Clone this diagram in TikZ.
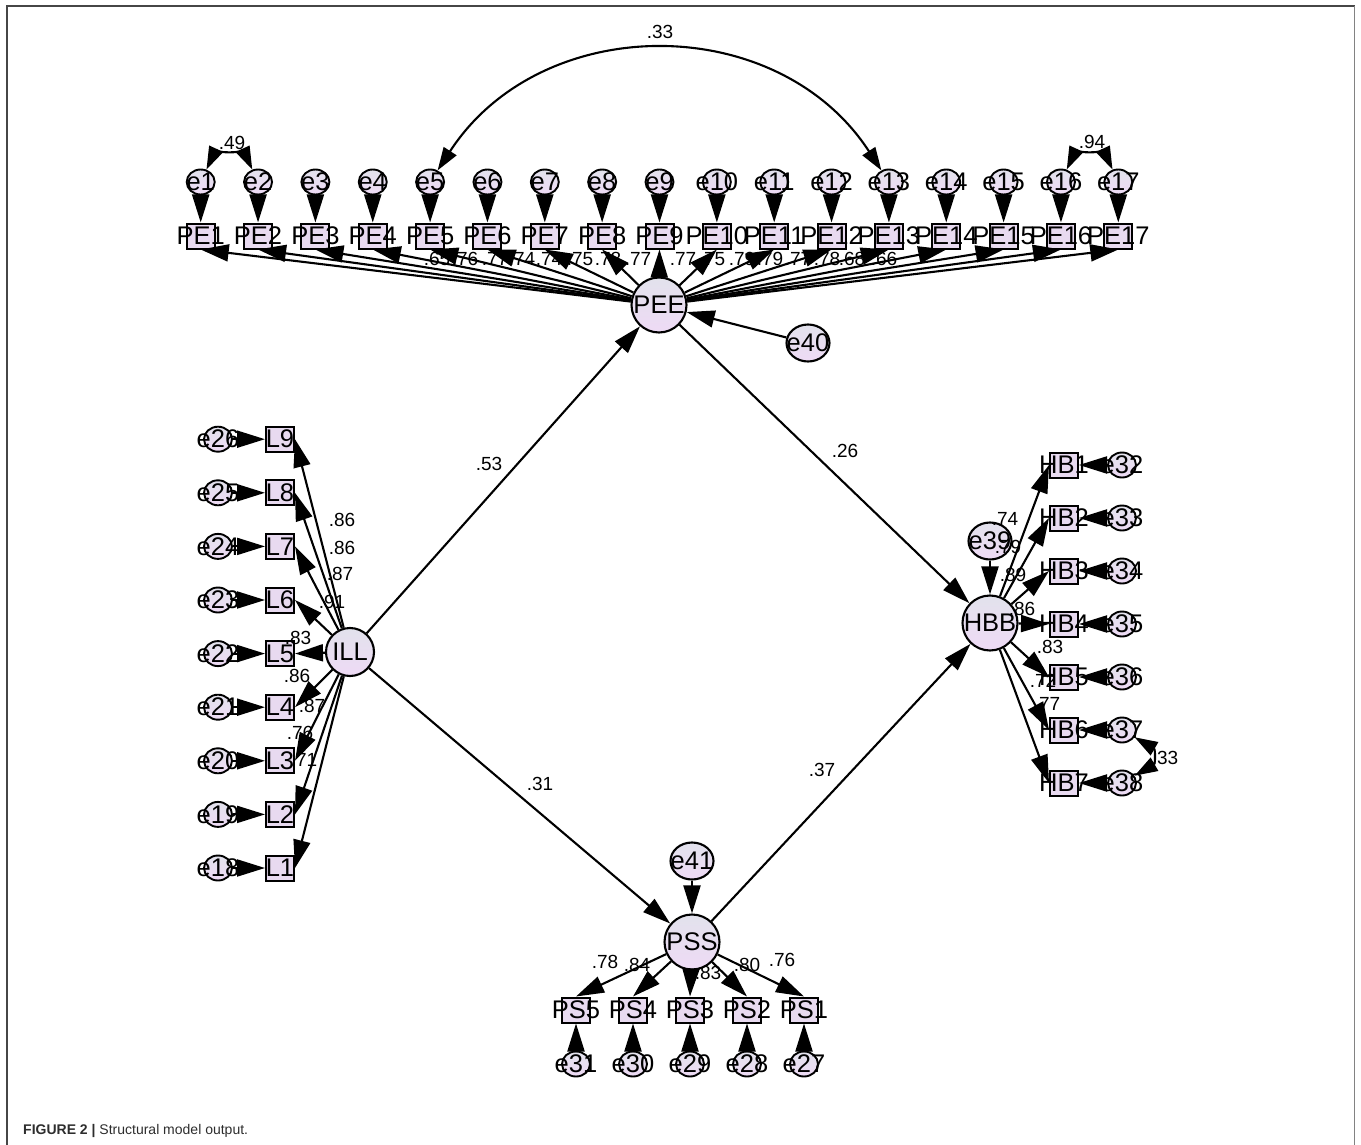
\documentclass[tikz,border=0pt]{standalone}
\usepackage{fontspec}
\setmainfont{Liberation Sans}
\usetikzlibrary{arrows.meta,shapes.geometric}
\definecolor{nodetop}{RGB}{226,226,236}
\definecolor{nodebot}{RGB}{238,218,245}
\definecolor{boxfill}{RGB}{232,218,240}
\definecolor{framedark}{RGB}{70,70,70}
\definecolor{framelight}{RGB}{130,130,130}
\definecolor{captxt}{RGB}{45,45,45}
\begin{document}
\begin{tikzpicture}[x=1pt,y=1pt,
  every node/.style={font=\fontsize{25.5}{25.5}\selectfont, inner sep=0pt},
  latent/.style={circle, draw=black, line width=2.1pt, top color=nodetop, bottom color=nodebot, minimum size=55pt},
  errbig/.style={ellipse, draw=black, line width=2.1pt, top color=nodetop, bottom color=nodebot, minimum width=43pt, minimum height=37pt},
  errsmall/.style={ellipse, draw=black, line width=1.9pt, top color=nodetop, bottom color=nodebot, minimum width=28pt, minimum height=25pt},
  obs/.style={rectangle, draw=black, line width=2pt, fill=boxfill, minimum width=28pt, minimum height=25pt},
  pathline/.style={line width=2.1pt, -{Triangle[length=28pt,width=17pt]}},
  covline/.style={line width=2.1pt, {Triangle[length=23pt,width=15pt]}-{Triangle[length=23pt,width=15pt]}},
  coef/.style={font=\fontsize{19}{19}\selectfont}
]
\useasboundingbox (0,0) rectangle (1361,-1145);
% frame
\draw[framedark, line width=1.2pt] (7,-1145) -- (7,-6) -- (1354.5,-6);
\draw[framelight, line width=1.4pt] (1354.5,-6) -- (1354.5,-1145);

% PE row
\foreach \i in {1,...,17}{
  \pgfmathsetmacro\xx{200.7+57.35*(\i-1)}
  \node[obs, label=center:PE\i] (pe\i) at (\xx,-236) {};
  \node[errsmall, label=center:e\i] (e\i) at (\xx,-182) {};
}
% L column
\foreach \i in {1,...,9}{
  \pgfmathsetmacro\yy{-868+53.6*(\i-1)}
  \pgfmathtruncatemacro\ee{17+\i}
  \node[obs, label=center:L\i] (l\i) at (280,\yy) {};
  \node[errsmall, label=center:e\ee] (e\ee) at (218,\yy) {};
}
% HB column
\foreach \i in {1,...,7}{
  \pgfmathsetmacro\yy{-465-53*(\i-1)}
  \pgfmathtruncatemacro\ee{31+\i}
  \node[obs, label=center:HB\i] (hb\i) at (1064,\yy) {};
  \node[errsmall, label=center:e\ee] (e\ee) at (1122,\yy) {};
}
% PS row
\foreach \i in {1,...,5}{
  \pgfmathsetmacro\xx{804-57*(\i-1)}
  \pgfmathtruncatemacro\ee{26+\i}
  \node[obs, label=center:PS\i] (ps\i) at (\xx,-1010) {};
  \node[errsmall, label=center:e\ee] (e\ee) at (\xx,-1064) {};
}
% latent variables
\node[latent, label=center:PEE] (pee) at (659,-305) {};
\node[latent, minimum size=48pt, label=center:ILL] (ill) at (350,-652) {};
\node[latent, label=center:HBB] (hbb) at (990,-623) {};
\node[latent, label=center:PSS] (pss) at (692,-942) {};
\node[errbig, label=center:e40] (e40) at (808,-343) {};
\node[errbig, label=center:e39] (e39) at (990,-541) {};
\node[errbig, label=center:e41] (e41) at (692,-861) {};

% coefficients
\node[coef] (c1) at (660,-32) {.33};
\node[coef] (c2) at (232,-143) {.49};
\node[coef] (c3) at (1092,-142) {.94};
\node[coef] (c4) at (1165,-758) {.33};
\node[coef] (c5) at (489,-464) {.53};
\node[coef] (c6) at (845,-451) {.26};
\node[coef] (c7) at (540,-784) {.31};
\node[coef] (c8) at (822,-770) {.37};
% PEE loadings
\foreach \v/\x [count=\k] in {.65/437,.76/465,.77/495,.74/522,.74/549,.75/580,.78/608,.77/638,.77/683,.75/712,.79/742,.79/770,.77/798,.78/827,.68/852,.66/884}{
  \node[coef] (pl\k) at (\x,-259) {\v};
}
% ILL loadings
\foreach \v/\x/\y [count=\k] in {.86/342/520,.86/342/548,.87/340/574,.91/332/602,.83/298/638,.86/297/676,.87/312/706,.76/300/733,.71/304/760}{
  \node[coef] (il\k) at (\x,-\y) {\v};
}
% HBB loadings
\foreach \v/\x/\y [count=\k] in {.74/1005/519,.79/1008/547,.89/1013/575,.86/1022/609,.83/1050/647,.72/1043/681,.77/1047/704}{
  \node[coef] (hl\k) at (\x,-\y) {\v};
}
% PSS loadings
\foreach \v/\x/\y [count=\k] in {.78/605/962,.84/637/965,.83/708/973,.80/747/965,.76/782/960}{
  \node[coef] (sl\k) at (\x,-\y) {\v};
}

% connectors
\foreach \i in {1,...,17}{
  \draw[pathline] (e\i) -- (pe\i);
  \draw[pathline] (pee) -- (pe\i.south);
}
\foreach \i in {1,...,9}{
  \pgfmathtruncatemacro\ee{17+\i}
  \draw[pathline] (e\ee) -- (l\i);
  \draw[pathline] (ill) -- (l\i.east);
}
\foreach \i in {1,...,7}{
  \pgfmathtruncatemacro\ee{31+\i}
  \draw[pathline] (e\ee) -- (hb\i);
  \draw[pathline] (hbb) -- (hb\i.west);
}
\foreach \i in {1,...,5}{
  \pgfmathtruncatemacro\ee{26+\i}
  \draw[pathline] (e\ee) -- (ps\i);
  \draw[pathline] (pss) -- (ps\i.north);
}
\draw[pathline] (e40) -- (pee);
\draw[pathline] (e39) -- (hbb);
\draw[pathline] (e41) -- (pss);
\draw[pathline] (ill) -- (pee);
\draw[pathline] (ill) -- (pss);
\draw[pathline] (pee) -- (hbb);
\draw[pathline] (pss) -- (hbb);
% correlations
\draw[covline] (e1) to[bend left=65] (e2);
\draw[covline] (e16) to[bend left=65] (e17);
\draw[covline] (e5) to[bend left=57, looseness=1.1] (e13);
\draw[covline] (e37) to[bend left=60, looseness=1.6] (e38);

% caption
\node[anchor=base west, font=\fontsize{14}{14}\selectfont, text=captxt] (cap) at (23,-1134) {\textbf{FIGURE 2 |} Structural model output.};
\end{tikzpicture}
\end{document}
